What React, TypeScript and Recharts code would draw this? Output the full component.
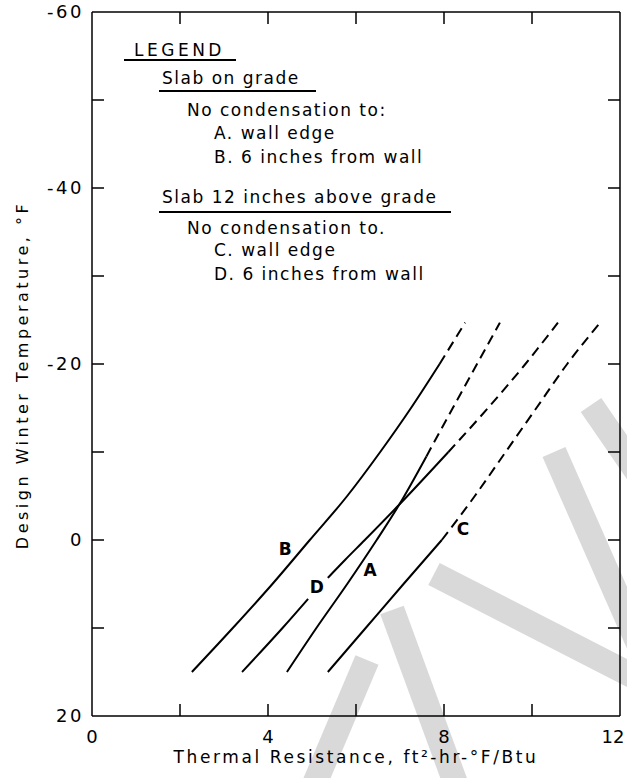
import React from 'react'
import { ComposedChart, Line, Scatter, XAxis, YAxis, Label } from 'recharts'

// [thermal resistance, design winter temperature]
const curveA = [[4.43, 15], [5.1, 10], [5.8, 5], [6.47, 0], [6.98, -4], [7.6, -9.5]]
const curveADashed = [[7.6, -9.5], [8.2, -15], [8.75, -20], [9.27, -24.7]]
const curveB = [[2.27, 15], [3.2, 10], [4.1, 5], [4.95, 0], [5.8, -5], [6.55, -10], [7.25, -15], [7.9, -20]]
const curveBDashed = [[7.9, -20], [8.48, -24.7]]
const curveC = [[5.36, 15], [6.22, 10], [7.08, 5], [7.95, 0]]
const curveCDashed = [[7.95, 0], [8.7, -5], [9.4, -10], [10.1, -15], [10.8, -20], [11.55, -24.7]]
const curveDLower = [[3.41, 15], [4.33, 10], [4.91, 6.7]]
const curveD = [[5.36, 4.3], [5.75, 2.27], [6.2, 0], [6.98, -4], [8.1, -10]]
const curveDDashed = [[8.1, -10], [9.0, -15], [9.85, -20], [10.59, -24.7]]

const curveLabels = [['A', 6.32, 3.4], ['B', 4.39, 1.0], ['C', 8.43, -1.25], ['D', 5.11, 5.3]]

const xTicks = [0, 2, 4, 6, 8, 10, 12]
const xLabelled = [0, 4, 8, 12]
const yTicks = [-60, -50, -40, -30, -20, -10, 0, 10, 20]
const yLabelled = [-60, -40, -20, 0, 20]

const legendLines = [
  'No condensation to:',
  'A. wall edge',
  'B. 6 inches from wall',
  'No condensation to.',
  'C. wall edge',
  'D. 6 inches from wall',
]

const FONT = '"DejaVu Sans", sans-serif'
const pts = (arr: number[][]) => arr.map(([r, t]) => ({ r, t }))
const labelPts = curveLabels.map(([name, r, t]) => ({ name, r, t }))

const BottomTick = ({ x, y, payload }: any) => {
  const v = payload.value
  return (
    <g>
      {v > 0 && v < 12 && <line x1={x} x2={x} y1={y} y2={y - 12} stroke="#000" strokeWidth={1.5} />}
      {xLabelled.includes(v) && (
        <text x={v === 12 ? x - 6 : x} y={y + 27} textAnchor="middle" fontSize={18} fontFamily={FONT} fill="#000">
          {v}
        </text>
      )}
    </g>
  )
}

const TopTick = ({ x, y, payload }: any) => {
  const v = payload.value
  if (v <= 0 || v >= 12) return <g />
  return <line x1={x} x2={x} y1={y} y2={y + 12} stroke="#000" strokeWidth={1.5} />
}

const LeftTick = ({ x, y, payload }: any) => {
  const v = payload.value
  return (
    <g>
      {v > -60 && v < 20 && <line x1={x} x2={x + 12} y1={y} y2={y} stroke="#000" strokeWidth={1.5} />}
      {yLabelled.includes(v) && (
        <text x={x - 8} y={y} dy="0.35em" textAnchor="end" fontSize={18} letterSpacing={2.5} fontFamily={FONT} fill="#000">
          {v}
        </text>
      )}
    </g>
  )
}

const RightTick = ({ x, y, payload }: any) => {
  const v = payload.value
  if (v <= -60 || v >= 20) return <g />
  return <line x1={x} x2={x - 12} y1={y} y2={y} stroke="#000" strokeWidth={1.5} />
}

const CurveLabel = ({ cx, cy, payload }: any) => (
  <text x={cx} y={cy} dy="0.36em" textAnchor="middle" fontSize={17} fontWeight="bold" fontFamily={FONT} fill="#000">
    {payload.name}
  </text>
)

function Watermark() {
  const bands = [
    [312, 790, 367, 660],
    [392, 610, 458, 790],
    [434, 574, 660, 690],
    [554, 452, 650, 670],
    [591, 405, 660, 505],
  ]
  return (
    <svg width={627} height={778} style={{ position: 'absolute', left: 0, top: 0 }}>
      {bands.map(([x1, y1, x2, y2], i) => (
        <line key={i} x1={x1} y1={y1} x2={x2} y2={y2} stroke="#d9d9d9" strokeWidth={25} />
      ))}
    </svg>
  )
}

function Legend() {
  const text = { position: 'absolute' as const, fontFamily: FONT, fontSize: 17, letterSpacing: 1.5, lineHeight: '20px', whiteSpace: 'nowrap' as const, color: '#000' }
  const rule = (left: number, top: number, width: number) => (
    <div style={{ position: 'absolute', left, top, width, borderTop: '2px solid #000' }} />
  )
  return (
    <div style={{ position: 'absolute', left: 0, top: 0 }}>
      <div style={{ ...text, left: 134, top: 40, letterSpacing: 3.5 }}>LEGEND</div>
      {rule(124, 59, 112)}
      <div style={{ ...text, left: 162, top: 68 }}>Slab on grade</div>
      {rule(159, 90, 157)}
      <div style={{ ...text, left: 187, top: 100 }}>{legendLines[0]}</div>
      <div style={{ ...text, left: 214, top: 123 }}>{legendLines[1]}</div>
      <div style={{ ...text, left: 214, top: 147 }}>{legendLines[2]}</div>
      <div style={{ ...text, left: 162, top: 187 }}>Slab 12 inches above grade</div>
      {rule(159, 211, 292)}
      <div style={{ ...text, left: 187, top: 218 }}>{legendLines[3]}</div>
      <div style={{ ...text, left: 214, top: 240 }}>{legendLines[4]}</div>
      <div style={{ ...text, left: 214, top: 264 }}>{legendLines[5]}</div>
    </div>
  )
}

export default function App() {
  const solid = { stroke: '#000', strokeWidth: 2, dot: false, type: 'monotone' as const, isAnimationActive: false, xAxisId: 'x', yAxisId: 'y', dataKey: 't' }
  const dashed = { ...solid, strokeDasharray: '10 6' }
  return (
    <div style={{ position: 'absolute', left: 0, top: 0, width: 627, height: 778, background: '#fff' }}>
      <Watermark />
      <div style={{ position: 'absolute', left: 0, top: 0 }}>
        <ComposedChart width={627} height={778} margin={{ top: 0, right: 0, bottom: 0, left: 0 }}>
          <XAxis
            xAxisId="x"
            dataKey="r"
            type="number"
            domain={[0, 12]}
            ticks={xTicks}
            height={62}
            tickSize={0}
            tickMargin={0}
            tickLine={false}
            tick={<BottomTick />}
            axisLine={{ stroke: '#000', strokeWidth: 1.5 }}
            allowDataOverflow
          >
            <Label
              content={({ viewBox }: any) => (
                <text x={viewBox.x + viewBox.width / 2} y={viewBox.y + 47} textAnchor="middle" fontSize={17} letterSpacing={2.6} fontFamily={FONT} fill="#000">
                  Thermal Resistance, ft²-hr-°F/Btu
                </text>
              )}
            />
          </XAxis>
          <XAxis
            xAxisId="top"
            orientation="top"
            dataKey="r"
            type="number"
            domain={[0, 12]}
            ticks={xTicks}
            height={12}
            tickSize={0}
            tickMargin={0}
            tickLine={false}
            tick={<TopTick />}
            axisLine={{ stroke: '#000', strokeWidth: 1.5 }}
            allowDataOverflow
          />
          <YAxis
            yAxisId="y"
            dataKey="t"
            type="number"
            domain={[-60, 20]}
            reversed
            ticks={yTicks}
            width={92}
            tickSize={0}
            tickMargin={0}
            tickLine={false}
            tick={<LeftTick />}
            axisLine={{ stroke: '#000', strokeWidth: 1.5 }}
            allowDataOverflow
          >
            <Label
              content={({ viewBox }: any) => {
                const cx = viewBox.x + 22
                const cy = viewBox.y + viewBox.height / 2 + 11
                return (
                  <text x={cx} y={cy} transform={`rotate(-90 ${cx} ${cy})`} dy="0.35em" textAnchor="middle" fontSize={16} letterSpacing={3.5} fontFamily={FONT} fill="#000">
                    Design Winter Temperature, °F
                  </text>
                )
              }}
            />
          </YAxis>
          <YAxis
            yAxisId="right"
            orientation="right"
            dataKey="t"
            type="number"
            domain={[-60, 20]}
            reversed
            ticks={yTicks}
            width={7}
            tickSize={0}
            tickMargin={0}
            tickLine={false}
            tick={<RightTick />}
            axisLine={{ stroke: '#000', strokeWidth: 1.5 }}
            allowDataOverflow
          />
          <Line {...solid} data={pts(curveA)} />
          <Line {...dashed} data={pts(curveADashed)} />
          <Line {...solid} data={pts(curveB)} />
          <Line {...dashed} data={pts(curveBDashed)} />
          <Line {...solid} data={pts(curveC)} />
          <Line {...dashed} data={pts(curveCDashed)} />
          <Line {...solid} data={pts(curveDLower)} />
          <Line {...solid} data={pts(curveD)} />
          <Line {...dashed} data={pts(curveDDashed)} />
          <Scatter xAxisId="x" yAxisId="y" data={labelPts} dataKey="t" shape={<CurveLabel />} isAnimationActive={false} />
        </ComposedChart>
      </div>
      <Legend />
    </div>
  )
}
